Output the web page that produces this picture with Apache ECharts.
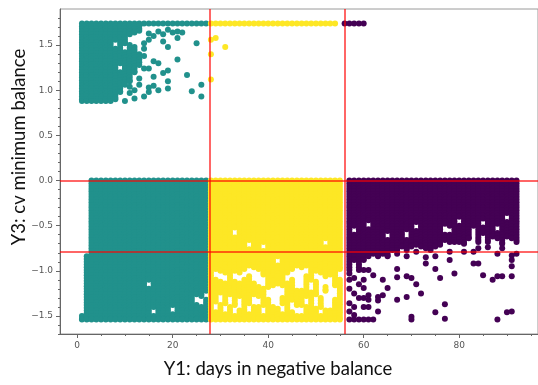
<!DOCTYPE html>
<html>
<head>
<meta charset="utf-8">
<script src="https://cdn.jsdelivr.net/npm/echarts@6/dist/echarts.min.js"></script>
<style>
  html, body { margin: 0; padding: 0; background: #fff; }
  #chart { width: 538px; height: 385px; }
</style>
</head>
<body>
<div id="chart"></div>
<script>
// Segment 1 (teal), segment 2 (yellow), segment 3 (purple).
// Dense blocks are stored per day as runs of cv values: [day, top, bottom, top, bottom, ...];
// every run is a column of observations spaced at the cv resolution below.
const CV_STEP = 0.03;

const tealUpperRuns = [
  [1, 1.74, 0.88], [2, 1.74, 0.88], [3, 1.74, 0.88], [4, 1.74, 0.88],
  [5, 1.74, 0.88], [6, 1.74, 0.88], [7, 1.74, 0.88], [8, 1.74, 1.56, 1.46, 0.90],
  [9, 1.74, 1.30, 1.20, 0.98], [10, 1.74, 1.52, 1.42, 1.06], [11, 1.74, 1.62, 1.50, 1.10],
  [12, 1.74, 1.64, 1.48, 1.20], [13, 1.74, 1.66, 1.40, 1.28],
  [14, 1.74, 1.74], [15, 1.74, 1.74], [16, 1.74, 1.74], [17, 1.74, 1.74],
  [18, 1.74, 1.74], [19, 1.74, 1.74], [20, 1.74, 1.74], [21, 1.74, 1.74],
  [22, 1.74, 1.74], [23, 1.74, 1.74], [24, 1.74, 1.74], [25, 1.74, 1.74],
  [26, 1.74, 1.74], [27, 1.74, 1.74]
];
const tealUpperPoints = [
  [15, 1.56], [15, 1.63], [17, 1.65], [19, 1.67], [21, 1.65], [21, 1.58], [18, 1.54],
  [19, 1.48], [25, 1.52], [21, 1.34], [23, 1.17], [16, 1.32], [17, 1.30], [14, 1.46],
  [14, 1.52], [15, 1.24], [16, 1.15], [19, 1.22], [18, 1.19], [19, 1.10], [19, 1.02],
  [17, 1.00], [15, 0.98], [14, 0.93], [12, 0.91], [10, 0.88], [26, 1.06], [24, 0.99],
  [26, 0.93], [14, 1.24], [13, 1.13], [16, 1.05], [15, 1.03], [12, 1.00], [11, 0.97],
  [14, 1.38], [16, 1.60], [18, 1.62], [20, 1.64], [22, 1.64], [13, 1.06], [11, 1.04]
];
const tealLowerRuns = [
  [1, -1.50, -1.54], [2, -0.84, -1.54],
  [3, 0.00, -1.54], [4, 0.00, -1.54], [5, 0.00, -1.54], [6, 0.00, -1.54],
  [7, 0.00, -1.54], [8, 0.00, -1.54], [9, 0.00, -1.54], [10, 0.00, -1.54],
  [11, 0.00, -1.54], [12, 0.00, -1.54], [13, 0.00, -1.54], [14, 0.00, -1.54],
  [15, 0.00, -1.10, -1.20, -1.54], [16, 0.00, -1.40, -1.50, -1.54],
  [17, 0.00, -1.54], [18, 0.00, -1.54], [19, 0.00, -1.54],
  [20, 0.00, -1.38, -1.48, -1.54], [21, 0.00, -1.54], [22, 0.00, -1.54],
  [23, 0.00, -1.54], [24, 0.00, -1.54], [25, 0.00, -1.26, -1.38, -1.54],
  [26, 0.00, -1.28, -1.40, -1.54], [27, 0.00, -1.22, -1.32, -1.54]
];

const yellowUpperRuns = [
  [28, 1.74, 1.74], [29, 1.74, 1.74], [30, 1.74, 1.74], [31, 1.74, 1.74],
  [32, 1.74, 1.74], [33, 1.74, 1.74], [34, 1.74, 1.74], [35, 1.74, 1.74],
  [36, 1.74, 1.74], [37, 1.74, 1.74], [38, 1.74, 1.74], [39, 1.74, 1.74],
  [40, 1.74, 1.74], [41, 1.74, 1.74], [42, 1.74, 1.74], [43, 1.74, 1.74],
  [44, 1.74, 1.74], [45, 1.74, 1.74], [46, 1.74, 1.74], [47, 1.74, 1.74],
  [48, 1.74, 1.74], [49, 1.74, 1.74], [50, 1.74, 1.74], [51, 1.74, 1.74],
  [52, 1.74, 1.74], [53, 1.74, 1.74], [54, 1.74, 1.74]
];
const yellowUpperPoints = [[28, 1.56], [29, 1.58], [31, 1.48], [28, 1.40], [28, 1.12]];
const yellowLowerRuns = [
  [28, 0.00, -1.54],
  [29, 0.00, -0.98, -1.10, -1.34, -1.46, -1.54],
  [30, 0.00, -1.00, -1.12, -1.24, -1.38, -1.54],
  [31, 0.00, -1.02, -1.14, -1.36, -1.48, -1.54],
  [32, 0.00, -1.26, -1.40, -1.54],
  [33, 0.00, -0.52, -0.63, -1.00, -1.12, -1.38, -1.50, -1.54],
  [34, 0.00, -1.02, -1.14, -1.28, -1.44, -1.54],
  [35, 0.00, -0.98, -1.10, -1.54],
  [36, 0.00, -0.66, -0.76, -0.94, -1.06, -1.36, -1.48, -1.54],
  [37, 0.00, -0.96, -1.14, -1.26, -1.40, -1.54],
  [38, 0.00, -0.98, -1.18, -1.28, -1.40, -1.54],
  [39, 0.00, -0.68, -0.78, -1.04, -1.20, -1.38, -1.50, -1.54],
  [40, 0.00, -1.18, -1.32, -1.54],
  [41, 0.00, -1.16, -1.40, -1.54],
  [42, 0.00, -0.84, -0.94, -1.14, -1.42, -1.54],
  [43, 0.00, -1.16, -1.30, -1.36, -1.48, -1.54],
  [44, 0.00, -1.02, -1.14, -1.54],
  [45, 0.00, -0.98, -1.10, -1.32, -1.46, -1.54],
  [46, 0.00, -0.94, -1.22, -1.38, -1.50, -1.54],
  [47, 0.00, -0.96, -1.22, -1.38, -1.50, -1.54],
  [48, 0.00, -0.94, -1.06, -1.28, -1.40, -1.54],
  [49, 0.00, -1.10, -1.24, -1.54],
  [50, 0.00, -1.00, -1.12, -1.26, -1.42, -1.54],
  [51, 0.00, -1.02, -1.30, -1.40, -1.50, -1.54],
  [52, 0.00, -0.64, -0.74, -1.06, -1.18, -1.22, -1.44, -1.54],
  [53, 0.00, -1.04, -1.44, -1.54],
  [54, 0.00, -1.16, -1.32, -1.54],
  [55, 0.00, -0.98, -1.10, -1.54]
];

const purpleUpperRuns = [
  [56, 1.74, 1.74], [57, 1.74, 1.74], [58, 1.74, 1.74], [59, 1.74, 1.74], [60, 1.74, 1.74]
];
const purpleLowerRuns = [
  [57, 0.00, -0.99], [58, 0.00, -0.50, -0.60, -0.88], [59, 0.00, -0.99], [60, 0.00, -0.88],
  [61, 0.00, -0.44, -0.54, -0.84], [62, 0.00, -0.81], [63, 0.00, -0.84], [64, 0.00, -0.81],
  [65, 0.00, -0.56, -0.66, -0.84], [66, 0.00, -0.77], [67, 0.00, -0.77], [68, 0.00, -0.73],
  [69, 0.00, -0.54, -0.66, -0.77], [70, 0.00, -0.73], [71, 0.00, -0.46, -0.56, -0.71],
  [72, 0.00, -0.73], [73, 0.00, -0.75], [74, 0.00, -0.77], [75, 0.00, -0.73],
  [76, 0.00, -0.71], [77, 0.00, -0.48, -0.60, -0.66], [78, 0.00, -0.50, -0.60, -0.68],
  [79, 0.00, -0.68], [80, 0.00, -0.40, -0.50, -0.68], [81, 0.00, -0.70], [82, 0.00, -0.64],
  [83, 0.00, -0.50], [84, 0.00, -0.68], [85, 0.00, -0.42, -0.52, -0.58],
  [86, 0.00, -0.68], [87, 0.00, -0.62], [88, 0.00, -0.48, -0.58, -0.64], [89, 0.00, -0.70],
  [90, 0.00, -0.36, -0.46, -0.62], [91, 0.00, -0.64], [92, 0.00, -0.68]
];
const purplePoints = [
  [63, -0.83], [65, -0.83], [67, -0.81], [69, -0.84], [71, -0.79], [73, -0.85], [75, -0.84],
  [78, -0.79], [81, -0.79], [83, -0.79], [84, -0.75], [86, -0.74], [88, -0.81], [89, -0.75],
  [91, -0.83], [92, -0.81], [73, -0.92], [75, -0.98], [76, -1.08], [78, -0.88], [79, -1.03],
  [83, -0.92], [84, -0.92], [85, -1.05], [87, -1.10], [88, -1.06], [89, -1.06], [91, -0.88],
  [91, -0.95], [91, -1.06], [67, -0.98], [67, -1.07], [69, -1.06], [70, -1.08], [71, -1.15],
  [64, -1.10], [65, -1.19], [64, -1.27], [63, -1.29], [63, -1.33], [67, -1.32], [69, -1.29],
  [72, -1.25], [77, -1.37], [77, -1.53], [75, -1.46], [70, -1.51], [70, -1.54], [88, -1.54],
  [90, -1.46], [91, -1.45],
  [57, -1.03], [58, -1.08], [60, -1.10], [61, -0.99], [60, -1.19], [59, -1.30], [60, -1.30],
  [61, -1.27], [61, -1.32], [57, -1.36], [58, -1.40], [60, -1.40], [61, -1.40], [63, -1.45],
  [57, -1.54], [58, -1.54], [59, -1.54], [60, -1.54], [61, -1.54], [62, -1.54], [57, -1.45],
  [58, -1.49], [57, -1.20], [58, -1.25], [59, -1.15], [62, -1.05], [60, -0.99], [57, -1.10]
];

// Cut-offs between segments
const dayCuts = [27.7, 56.0];
const cvCuts = [0.0, -0.79];

// Axis ticks
const xMajorTicks = [0, 20, 40, 60, 80];
const xMinorTicks = [5, 10, 15, 25, 30, 35, 45, 50, 55, 65, 70, 75, 85, 90, 95];
const yMajorTicks = [-1.5, -1.0, -0.5, 0.0, 0.5, 1.0, 1.5];
const yMinorTicks = [-1.7, -1.6, -1.4, -1.3, -1.2, -1.1, -0.9, -0.8, -0.7, -0.6, -0.4, -0.3,
  -0.2, -0.1, 0.1, 0.2, 0.3, 0.4, 0.6, 0.7, 0.8, 0.9, 1.1, 1.2, 1.3, 1.4, 1.6, 1.7, 1.8];

function expandRuns(runs) {
  const pts = [];
  runs.forEach(r => {
    const day = r[0];
    for (let i = 1; i < r.length; i += 2) {
      const top = r[i], bottom = r[i + 1];
      for (let v = top; v > bottom + 1e-9; v -= CV_STEP) pts.push([day, +v.toFixed(3)]);
      pts.push([day, bottom]);
    }
  });
  return pts;
}

const tealData = expandRuns(tealUpperRuns).concat(tealUpperPoints, expandRuns(tealLowerRuns));
const yellowData = expandRuns(yellowUpperRuns).concat(yellowUpperPoints, expandRuns(yellowLowerRuns));
const purpleData = expandRuns(purpleUpperRuns).concat(expandRuns(purpleLowerRuns), purplePoints);

const tickFont = { fontFamily: 'DejaVu Sans', fontSize: 9, color: '#555' };
const fmt = v => Number(v).toFixed(1).replace('-', '\u2212');

function pointSeries(data, color) {
  return {
    type: 'scatter', data, symbolSize: 6, xAxisIndex: 0, yAxisIndex: 0,
    itemStyle: { color, opacity: 1 }, progressive: 0, silent: true, animation: false
  };
}

const chart = echarts.init(document.getElementById('chart'), null, { renderer: 'canvas' });
chart.setOption({
  animation: false,
  backgroundColor: '#fff',
  grid: { left: 60, top: 9, right: -3, bottom: 51, show: true, borderColor: '#9a9a9a', borderWidth: 1 },
  xAxis: [
    {
      type: 'value', min: -3.6, max: 96.5, position: 'bottom',
      axisLine: { show: true, onZero: false, lineStyle: { color: '#666', width: 1 } },
      axisTick: { show: true, length: 4, customValues: xMajorTicks, lineStyle: { color: '#666' } },
      axisLabel: { show: true, customValues: xMajorTicks, margin: 7, ...tickFont, formatter: v => String(v) },
      splitLine: { show: false }
    },
    {
      type: 'value', min: -3.6, max: 96.5, position: 'bottom', gridIndex: 0,
      axisLine: { show: false, onZero: false },
      axisTick: { show: true, length: 2, customValues: xMinorTicks, lineStyle: { color: '#666' } },
      axisLabel: { show: false }, splitLine: { show: false }
    }
  ],
  yAxis: [
    {
      type: 'value', min: -1.7, max: 1.9, position: 'left',
      axisLine: { show: true, onZero: false, lineStyle: { color: '#666', width: 1 } },
      axisTick: { show: true, length: 4, customValues: yMajorTicks, lineStyle: { color: '#666' } },
      axisLabel: { show: true, customValues: yMajorTicks, margin: 7, ...tickFont, formatter: fmt },
      splitLine: { show: false }
    },
    {
      type: 'value', min: -1.7, max: 1.9, position: 'left', gridIndex: 0,
      axisLine: { show: false, onZero: false },
      axisTick: { show: true, length: 2, customValues: yMinorTicks, lineStyle: { color: '#666' } },
      axisLabel: { show: false }, splitLine: { show: false }
    }
  ],
  series: [
    pointSeries(tealData, '#21918c'),
    pointSeries(yellowData, '#fde725'),
    pointSeries(purpleData, '#440154'),
    {
      type: 'scatter', data: [], xAxisIndex: 0, yAxisIndex: 0, silent: true, z: 10,
      markLine: {
        silent: true, symbol: ['none', 'none'], animation: false,
        label: { show: false },
        lineStyle: { color: 'rgba(255,0,0,0.8)', width: 1.5, type: 'solid' },
        data: dayCuts.map(d => ({ xAxis: d })).concat(cvCuts.map(c => ({ yAxis: c })))
      }
    }
  ],
  graphic: [
    {
      type: 'text', x: 278, y: 369,
      style: { text: 'Y1: days in negative balance', font: '18.5px Lato', fill: '#111',
        x: 0, y: 0, align: 'center', verticalAlign: 'middle' }
    },
    {
      type: 'text', x: 19, y: 147, rotation: Math.PI / 2,
      style: { text: 'Y3: cv minimum balance', font: '18.5px Lato', fill: '#111',
        x: 0, y: 0, align: 'center', verticalAlign: 'middle' }
    }
  ]
});
</script>
</body>
</html>
